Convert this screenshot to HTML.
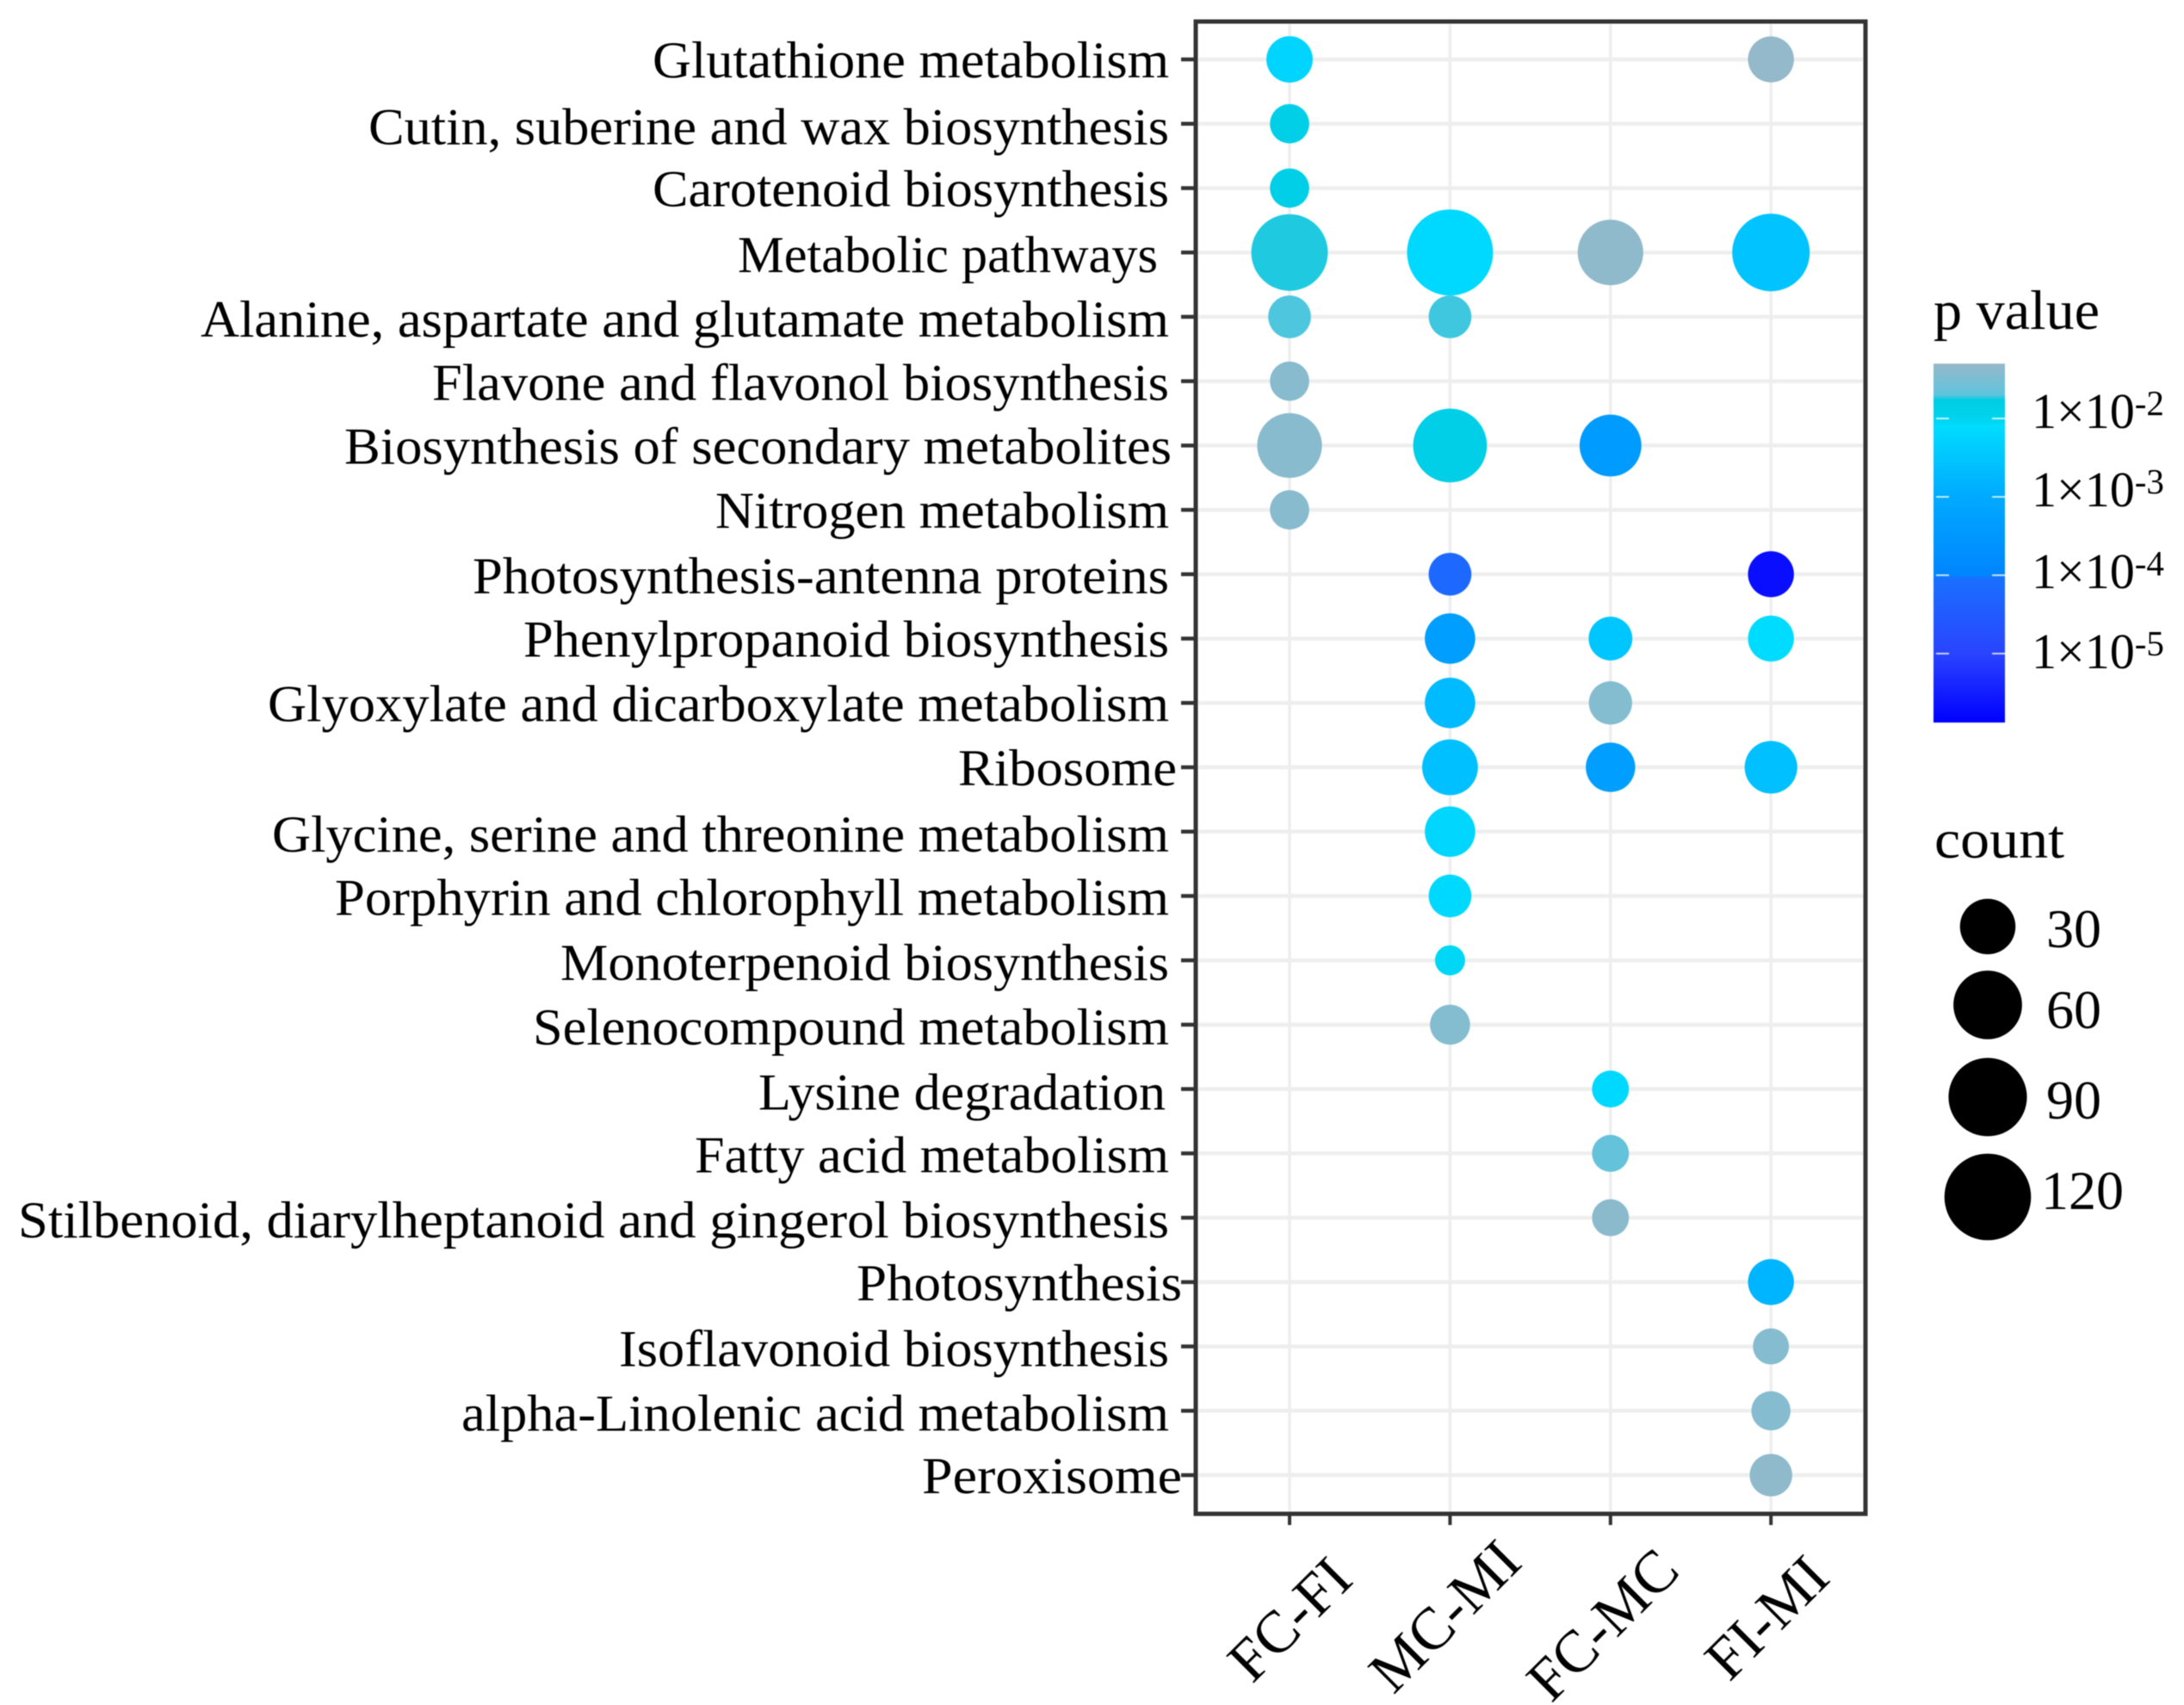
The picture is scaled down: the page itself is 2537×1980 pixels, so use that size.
<!DOCTYPE html>
<html lang="en">
<head>
<meta charset="utf-8">
<title>KEGG pathway enrichment bubble chart</title>
<style>
html,body{margin:0;padding:0;background:#fff;}
svg{display:block;filter:blur(0.5px);}
text{font-family:"Liberation Serif","Times New Roman",serif;fill:#000;}
</style>
</head>
<body>
<svg id="chart" xmlns="http://www.w3.org/2000/svg" width="2537" height="1980" viewBox="0 0 2537 1980">
  <defs>
    <linearGradient id="pvalue-gradient" x1="0" y1="0" x2="0" y2="1"></linearGradient>
  </defs>
  <rect x="0" y="0" width="2537" height="1980" fill="#ffffff"/>
  <g id="grid"></g>
  <g id="marks"></g>
  <rect x="1389" y="25" width="778" height="1733" fill="none" stroke="#333333" stroke-width="5"/>
  <g id="y-axis"></g>
  <g id="x-axis"></g>
  <g id="color-legend">
    <text x="2246" y="382" font-size="65" textLength="193" lengthAdjust="spacingAndGlyphs">p value</text>
    <rect id="colorbar" x="2246" width="83" fill="url(#pvalue-gradient)"/>
  </g>
  <g id="size-legend">
    <text x="2247" y="996" font-size="64" textLength="151" lengthAdjust="spacingAndGlyphs">count</text>
  </g>
</svg>
<script>
// Data ------------------------------------------------------------------
const pathways = [
  "Glutathione metabolism","Cutin, suberine and wax biosynthesis","Carotenoid biosynthesis",
  "Metabolic pathways","Alanine, aspartate and glutamate metabolism","Flavone and flavonol biosynthesis",
  "Biosynthesis of secondary metabolites","Nitrogen metabolism","Photosynthesis-antenna proteins",
  "Phenylpropanoid biosynthesis","Glyoxylate and dicarboxylate metabolism","Ribosome",
  "Glycine, serine and threonine metabolism","Porphyrin and chlorophyll metabolism","Monoterpenoid biosynthesis",
  "Selenocompound metabolism","Lysine degradation","Fatty acid metabolism",
  "Stilbenoid, diarylheptanoid and gingerol biosynthesis","Photosynthesis","Isoflavonoid biosynthesis",
  "alpha-Linolenic acid metabolism","Peroxisome"
];
const comparisons = ["FC-FI","MC-MI","FC-MC","FI-MI"];

// count per pathway (null = not enriched)
const countFCFI = [16,9,9,84,12,9,50,9,null,null,null,null,null,null,null,null,null,null,null,null,null,null,null];
const countMCMI = [null,null,null,118,12,null,75,null,12,21.5,21.5,30.5,21.5,12,5.1,9.6,null,null,null,null,null,null,null];
const countFCMC = [null,null,null,52,null,null,43,null,null,13,12.5,20,null,null,null,null,7.5,7.5,7.5,null,null,null,null];
const countFIMI = [15.5,null,null,87,null,null,null,null,15.5,15.5,null,25,null,null,null,null,null,null,null,15.5,7,8.9,11.8];

// log10(p value) per pathway
const logpFCFI = [-2.25,-1.85,-1.85,-1.74,-1.71,-1.4,-1.4,-1.4,null,null,null,null,null,null,null,null,null,null,null,null,null,null,null];
const logpMCMI = [null,null,null,-2.15,-1.72,null,-1.85,null,-4.2,-3.3,-2.7,-2.6,-2.2,-2.15,-2.05,-1.43,null,null,null,null,null,null,null];
const logpFCMC = [null,null,null,-1.35,null,null,-3.4,null,null,-2.5,-1.43,-3.3,null,null,null,null,-2.15,-1.66,-1.38,null,null,null,null];
const logpFIMI = [-1.32,null,null,-2.55,null,null,null,null,-5.7,-2.1,null,-2.6,null,null,null,null,null,null,null,-2.8,-1.42,-1.42,-1.36];

const countSeries = [countFCFI,countMCMI,countFCMC,countFIMI];
const logpSeries = [logpFCFI,logpMCMI,logpFCMC,logpFIMI];

const colorTicks = [-2,-3,-4,-5];
const countTicks = [30,60,90,120];

// Colour ramp: log10(p) domain and matching colours
const rampLogp = [-1.3,-1.7,-1.76,-2,-2.1,-3,-4,-4.04,-5,-5.88];
const rampColors = ["#96b8c9","#5ec4dd","#00cde3","#00d3ee","#00dcff","#00aaff","#0085ff","#1a70ff","#2a44ff","#0000ff"];

// Layout (not data): label extents and baseline nudges -------------------
const yLabelLeft  = [758,428,758,857,233,502,400,831,549,608,311,1113,316,389,651,619,881,807,21,995,719,536,1071];
const yLabelRight = [1358,1358,1358,1345,1358,1358,1361,1358,1358,1358,1358,1367,1358,1358,1358,1358,1354,1358,1358,1373,1358,1358,1373];
const yLabelDy    = [21,24,21,23,23,22,21,21,22,21,21,21,23,22,23,23,24,22,23,21,23,23,21];
const xLabelEndDx = [76,86,83,71];
const xLabelEndY  = [1837,1817,1827,1835];
const countLabelX = [2377,2377,2377,2371];
const countLabelY = [1100,1194,1299,1404];
const countLegendY = [1076,1167,1274,1390];
const colorLabelY = [497,588,683,776];

// Scales ------------------------------------------------------------------
const NS = "http://www.w3.org/2000/svg";
function xScale(i){ return 1498 + i * 186.4; }
function yScale(i){ return 69 + i * 74.73; }
function sizeScale(c){ return 16.5 + 3.15 * Math.sqrt(Math.max(0, c - 5)); }
function colorbarY(logp){ return 486 + (-2 - logp) * 91; }
function hexToRgb(h){ return [1,3,5].map(function(k){ return parseInt(h.substr(k,2),16); }); }
function colorScale(logp){
  if (logp >= rampLogp[0]) return rampColors[0];
  for (let k = 1; k < rampLogp.length; k++) {
    if (logp >= rampLogp[k]) {
      const t = (rampLogp[k-1] - logp) / (rampLogp[k-1] - rampLogp[k]);
      const a = hexToRgb(rampColors[k-1]);
      const b = hexToRgb(rampColors[k]);
      return "rgb(" + a.map(function(v,n){ return Math.round(v + (b[n]-v)*t); }).join(",") + ")";
    }
  }
  return rampColors[rampColors.length-1];
}
function make(tag, attrs, parent){
  const el = document.createElementNS(NS, tag);
  for (const k in attrs) el.setAttribute(k, attrs[k]);
  parent.appendChild(el);
  return el;
}

const grid = document.getElementById("grid");
const marks = document.getElementById("marks");
const yAxis = document.getElementById("y-axis");
const xAxis = document.getElementById("x-axis");
const colorLegend = document.getElementById("color-legend");
const sizeLegend = document.getElementById("size-legend");

// Grid, y axis --------------------------------------------------------------
pathways.forEach(function(name, i){
  const y = yScale(i);
  const line = make("line", {x1:1392, x2:2164, y1:y, y2:y, stroke:"#eeeeee", "stroke-width":4.5}, grid);
  
  
  const tick = make("line", {x1:1372, x2:1388, y1:y, y2:y, stroke:"#333333", "stroke-width":4.5}, yAxis);
  
  
  const label = make("text", {
    x: yLabelLeft[i], y: y + yLabelDy[i], "font-size": 60,
    textLength: yLabelRight[i] - yLabelLeft[i], lengthAdjust: "spacingAndGlyphs"
  }, yAxis);
  
  
  label.textContent = name;
});

// Grid, x axis --------------------------------------------------------------
comparisons.forEach(function(name, i){
  const x = xScale(i);
  const line = make("line", {x1:x, x2:x, y1:28, y2:1755, stroke:"#eeeeee", "stroke-width":3.5}, grid);
  
  
  const tick = make("line", {x1:x, x2:x, y1:1759, y2:1771, stroke:"#333333", "stroke-width":4}, xAxis);
  
  
  const ex = x + xLabelEndDx[i];
  const ey = xLabelEndY[i];
  const label = make("text", {
    x: ex, y: ey, "font-size": 69, "text-anchor": "end",
    transform: "rotate(-45 " + ex + " " + ey + ")"
  }, xAxis);
  
  
  label.textContent = name;
});

// Bubbles ---------------------------------------------------------------------
countSeries.forEach(function(series, s){
  series.forEach(function(count, i){
    if (count === null) return;
    const dot = make("circle", {
      cx: xScale(s), cy: yScale(i), r: sizeScale(count), fill: colorScale(logpSeries[s][i])
    }, marks);
    
    
  });
});

// Colour legend ---------------------------------------------------------------
const gradient = document.getElementById("pvalue-gradient");
const barTop = colorbarY(rampLogp[0]);
const barBottom = colorbarY(rampLogp[rampLogp.length-1]);
const colorbar = document.getElementById("colorbar");
colorbar.setAttribute("y", barTop);
colorbar.setAttribute("height", barBottom - barTop);
rampLogp.forEach(function(v, k){
  const stop = make("stop", {
    offset: (colorbarY(v) - barTop) / (barBottom - barTop), "stop-color": rampColors[k]
  }, gradient);
  
  
});
colorTicks.forEach(function(v, i){
  const y = colorbarY(v);
  const left = make("line", {x1:2249, x2:2264, y1:y, y2:y, stroke:"#ffffff", "stroke-opacity":0.75, "stroke-width":2}, colorLegend);
  
  
  const right = make("line", {x1:2314, x2:2329, y1:y, y2:y, stroke:"#ffffff", "stroke-opacity":0.75, "stroke-width":2}, colorLegend);
  
  
  const label = make("text", {x:2360, y:colorLabelY[i], "font-size":58}, colorLegend);
  
  
  const base = make("tspan", {}, label);
  base.textContent = "1×10";
  const sup = make("tspan", {"font-size":41, dy:-15}, label);
  sup.textContent = String(v);
});

// Size legend -----------------------------------------------------------------
countTicks.forEach(function(c, i){
  const dot = make("circle", {cx:2309, cy:countLegendY[i], r:sizeScale(c), fill:"#000000"}, sizeLegend);
  
  
  const label = make("text", {x:countLabelX[i], y:countLabelY[i], "font-size":64}, sizeLegend);
  
  
  label.textContent = String(c);
});
</script>
</body>
</html>
